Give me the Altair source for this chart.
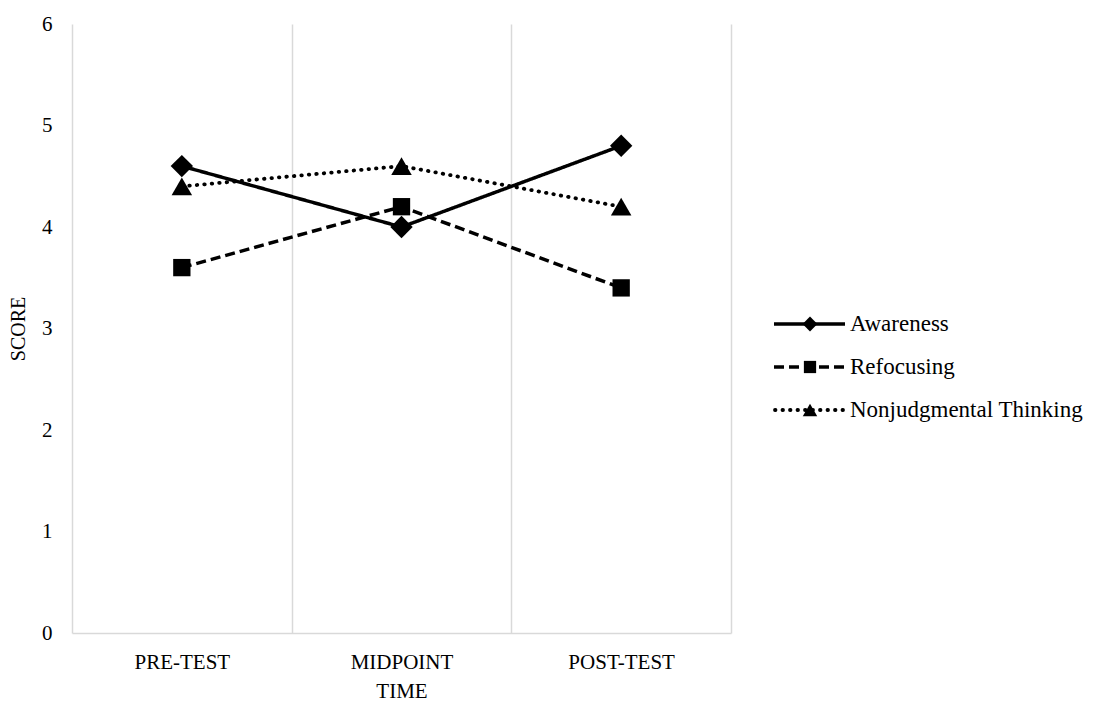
import altair as alt
import pandas as pd

# Scores for each subscale at the three measurement points
times = ["PRE-TEST", "MIDPOINT", "POST-TEST"]
series = ["Awareness", "Refocusing", "Nonjudgmental Thinking"]
awareness = [4.6, 4.0, 4.8]
refocusing = [3.6, 4.2, 3.4]
nonjudgmental = [4.4, 4.6, 4.2]

values = {"Awareness": awareness, "Refocusing": refocusing,
          "Nonjudgmental Thinking": nonjudgmental}
rows = [{"time": t, "series": s, "score": values[s][i]}
        for s in series for i, t in enumerate(times)]
df = pd.DataFrame(rows)
legend_df = pd.DataFrame({"series": series})

FONT = "Liberation Serif"
GRID = "#d9d9d9"

# line style and marker per series: (dash, cap, width, shape, size, legend size)
styles = {
    "Awareness": ([1, 0], "butt", 3.5, "diamond", 500, 220),
    "Refocusing": ([10, 5], "butt", 3.5, "square", 300, 150),
    "Nonjudgmental Thinking": ([0.5, 7], "round", 3.8, "triangle-up", 420, 210),
}

x_enc = alt.X(
    "time:N", sort=times,
    scale=alt.Scale(type="band", paddingInner=0, paddingOuter=0),
    axis=alt.Axis(title="TIME", tickBand="extent", grid=True, gridColor=GRID,
                  gridWidth=1.5, domainColor=GRID, domainWidth=1.5, ticks=False,
                  labelAngle=0, labelPadding=18, labelFontSize=21,
                  titleFontSize=21, titlePadding=8, titleFontWeight="normal"),
)
y_enc = alt.Y(
    "score:Q", scale=alt.Scale(domain=[0, 6], nice=False),
    axis=alt.Axis(title="SCORE", values=[0, 1, 2, 3, 4, 5, 6], grid=False,
                  domain=False, ticks=False, labelPadding=20, labelFontSize=21,
                  titleFontSize=20, titlePadding=13, titleFontWeight="normal"),
)

base = alt.Chart(df).encode(x=x_enc, y=y_enc)

main_layers = []
for s in series:
    dash, cap, sw, shape, size, _ = styles[s]
    sub = base.transform_filter(alt.datum.series == s)
    main_layers.append(sub.mark_line(color="black", strokeWidth=sw,
                                     strokeCap=cap, strokeDash=dash))
for s in series:
    dash, cap, sw, shape, size, _ = styles[s]
    sub = base.transform_filter(alt.datum.series == s)
    main_layers.append(sub.mark_point(filled=True, color="black", opacity=1,
                                      shape=shape, size=size))

main = alt.layer(*main_layers).properties(width=659, height=609)

# Hand-drawn legend: line sample, marker, and label for each series
leg_y = alt.Y("series:N", sort=series, axis=None,
              scale=alt.Scale(type="point", domain=series, range=[300, 386], padding=0))
leg_base = alt.Chart(legend_df).encode(y=leg_y)
leg_layers = []
for s in series:
    dash, cap, sw, shape, size, lsize = styles[s]
    sub = leg_base.transform_filter(alt.datum.series == s)
    leg_layers.append(sub.mark_rule(color="black", strokeWidth=sw, strokeCap=cap,
                                    strokeDash=dash).encode(
        x=alt.value(1 if cap == "round" else 0), x2=alt.value(71)))
    leg_layers.append(sub.mark_point(filled=True, color="black", opacity=1,
                                     shape=shape, size=lsize).encode(x=alt.value(36)))
leg_layers.append(leg_base.mark_text(align="left", baseline="middle", fontSize=23,
                                     font=FONT, color="black").encode(
    x=alt.value(76), text="series:N"))
legend = alt.layer(*leg_layers).properties(width=240, height=609)

chart = alt.hconcat(main, legend, spacing=41).properties(
    padding={"left": 8, "top": 13, "right": 0, "bottom": 0}
).configure_view(stroke=None).configure_axis(
    labelFont=FONT, titleFont=FONT, labelColor="black", titleColor="black"
).configure_text(font=FONT)

chart.save("out.html", embed_options={"renderer": "svg", "actions": False})
